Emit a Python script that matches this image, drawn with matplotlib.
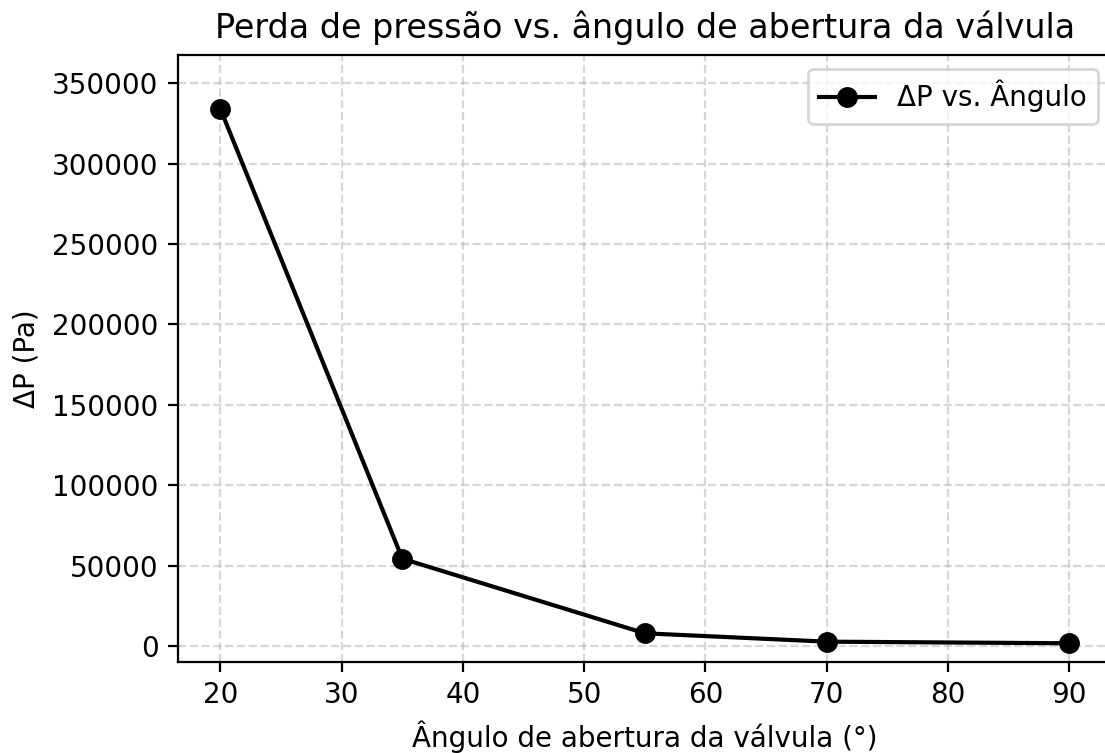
import numpy as np
import matplotlib
matplotlib.use("Agg")
import matplotlib.pyplot as plt

# valores
angulos = [20, 35, 55, 70, 90]
delta_p = [334000, 54300, 7900, 2700, 1700]

fig = plt.figure(figsize=(5.525, 3.765), dpi=200)
ax = fig.add_axes([178 / 1105, 91 / 753, (1111.7 - 178) / 1105, (662 - 55) / 753])

ax.plot(angulos, delta_p, 'o-', color='black', markersize=6.5, lw=1.5,
        label='ΔP vs. Ângulo')
ax.set_xlim(16.5, 93.5)
ax.set_ylim(-9950, 367600)
ax.set_title('Perda de pressão vs. ângulo de abertura da válvula', fontsize=12)
ax.set_xlabel('Ângulo de abertura da válvula (°)')
ax.set_ylabel('ΔP (Pa)')
ax.grid(True, linestyle='--', alpha=0.5)
ax.legend(loc='upper right')

fig.savefig('out.png', dpi=200)
